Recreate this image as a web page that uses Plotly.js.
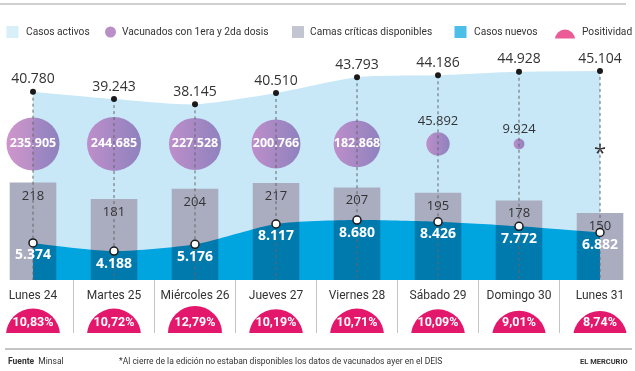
<!DOCTYPE html>
<html><head><meta charset="utf-8">
<script src="https://cdn.plot.ly/plotly-3.0.1.min.js"></script>
<style>
html,body{margin:0;padding:0;background:#fff;}
#chart{width:635px;height:371px;}
/* the new-cases area is blended (multiply) over the beds bars and the active-cases area */
.overplot g.xy3{mix-blend-mode:multiply;}
</style></head><body><div id="chart"></div>
<script>
// ---- data ----
const days = ['Lunes 24','Martes 25','Miércoles 26','Jueves 27','Viernes 28','Sábado 29','Domingo 30','Lunes 31'];
const activos = [40780,39243,38145,40510,43793,44186,44928,45104];
const vacunados = [235905,244685,227528,200766,182868,45892,9924,null];
const camas = [218,181,204,217,207,195,178,150];
const nuevos = [5374,4188,5176,8117,8680,8426,7772,6882];
const positividad = [10.83,10.72,12.79,10.19,10.71,10.09,9.01,8.74];
const legendLabels = ['Casos activos','Vacunados con 1era y 2da dosis','Camas críticas disponibles','Casos nuevos','Positividad'];
const nota = '*Al cierre de la edición no estaban disponibles los datos de vacunados ayer en el DEIS';

// ---- styling ----
const W = 635, H = 371;
const py = p => 1 - p / H;
const px = p => p / W;
const C = {light:'rgb(200,232,248)', cyanFill:'rgb(0,180,230)', cyan:'rgb(0,164,224)', gray:'rgb(170,172,192)',
           purpleA:'#b968b6', purpleB:'#7656a5', purple:'#9a5fae', pink:'#e3176b', text:'#333333', dot:'#1a1a1a'};
const SANS = 'Roboto, "Liberation Sans", sans-serif';
const NUM = '"Open Sans", sans-serif';

const fmt = v => String(v).replace(/\B(?=(\d{3})+(?!\d))/g, '.');
const pct = v => v.toFixed(2).replace('.', ',') + '%';
const idx = days.map((d, i) => i);
const ROW = 0.567;       // bubble row on its 0..1 axis
const maxVac = Math.max(...vacunados.filter(v => v != null));

// dashed guides from each active-case dot downward
const gx = [], gy = [];
activos.forEach((v, i) => { gx.push(i, i, null); gy.push(v, 0, null); });

const traces = [
  {x: idx, y: activos, yaxis: 'y', mode: 'lines', line: {shape: 'spline', smoothing: 0.7, width: 0, color: C.light},
   fill: 'tozeroy', fillcolor: C.light, hoverinfo: 'skip'},
  {type: 'bar', x: idx, y: camas, yaxis: 'y2', width: 0.575, marker: {color: C.gray, line: {width: 0}},
   text: camas.map(String), textposition: 'inside', insidetextanchor: 'end', textangle: 0,
   insidetextfont: {family: NUM, size: 13, color: C.text}, hoverinfo: 'skip'},
  {x: idx, y: nuevos, yaxis: 'y3', mode: 'lines', line: {shape: 'spline', smoothing: 0.7, width: 0, color: C.cyanFill},
   fill: 'tozeroy', fillcolor: C.cyanFill, hoverinfo: 'skip'},
  {x: idx, y: vacunados.map(v => v == null ? null : ROW), yaxis: 'y4', mode: 'markers+text',
   marker: {size: vacunados.map(v => v == null ? 0 : v), sizemode: 'area', sizeref: 2 * maxVac / (54 * 54),
            color: C.purpleA, gradient: {type: 'horizontal', color: C.purpleB}, line: {width: 0}},
   text: vacunados.map(v => (v != null && v < 100000) ? fmt(v) : ''), textposition: 'top center',
   textfont: {family: NUM, size: 13, color: C.text}, cliponaxis: false, hoverinfo: 'skip'},
  {x: idx, y: vacunados.map(v => v == null ? null : ROW), yaxis: 'y4', mode: 'text',
   text: vacunados.map(v => (v != null && v >= 100000) ? fmt(v) : ''), textposition: 'middle center',
   textfont: {family: NUM, size: 12.5, color: '#ffffff', weight: 700}, cliponaxis: false, hoverinfo: 'skip'},
  {x: idx, y: vacunados.map(v => v == null ? ROW : null), yaxis: 'y4', mode: 'text',
   text: vacunados.map(v => v == null ? '*' : ''), textposition: 'bottom center',
   textfont: {family: NUM, size: 22, color: C.text}, cliponaxis: false, hoverinfo: 'skip'},
  {x: gx, y: gy, yaxis: 'y5', mode: 'lines', line: {color: '#666666', width: 1, dash: 'dot'}, hoverinfo: 'skip'},
  {x: idx, y: activos, yaxis: 'y5', mode: 'markers+text', marker: {size: 6, color: C.dot},
   text: activos.map(fmt), textposition: 'top center', textfont: {family: NUM, size: 14, color: C.text},
   cliponaxis: false, hoverinfo: 'skip'},
  {x: idx, y: nuevos, yaxis: 'y6', mode: 'markers+text',
   marker: {size: 8, color: '#ffffff', line: {color: C.dot, width: 1.5}},
   text: nuevos.map(fmt), textposition: 'bottom center', textfont: {family: NUM, size: 14, color: '#ffffff', weight: 700},
   cliponaxis: false, hoverinfo: 'skip'},
  {x: idx, y: positividad, xaxis: 'x2', yaxis: 'y7', mode: 'markers', marker: {size: 54, color: C.pink, line: {width: 0}},
   hoverinfo: 'skip'},
  {x: idx, y: idx.map(() => 0.19), xaxis: 'x2', yaxis: 'y8', mode: 'text', text: positividad.map(pct),
   textfont: {family: SANS, size: 12.5, color: '#ffffff', weight: 700}, cliponaxis: false, hoverinfo: 'skip'},
  {x: idx, y: idx.map(() => 0.70), xaxis: 'x2', yaxis: 'y8', mode: 'text', text: days,
   textfont: {family: SANS, size: 12, color: C.text}, cliponaxis: false, hoverinfo: 'skip'},
  // legend symbols
  {x: [12.5, 110.5, 298, 460.5, 565], y: [0.265, 0.265, 0.265, 0.265, -0.04], xaxis: 'x3', yaxis: 'y9', mode: 'markers',
   marker: {symbol: ['square', 'circle', 'square', 'square', 'circle'], size: [12, 11, 12, 12, 20],
            color: [C.light, C.purple, C.gray, C.cyan, C.pink], line: {width: 0}}, hoverinfo: 'skip'}
];

const XR = [-33 / 81, (W - 33) / 81];
const hid = {visible: false, fixedrange: true};
const mainDom = [py(280), py(40)];
const layout = {
  width: W, height: H, margin: {l: 0, r: 0, t: 0, b: 0, pad: 0},
  paper_bgcolor: '#ffffff', plot_bgcolor: 'rgba(0,0,0,0)', showlegend: false, separators: ',.',
  font: {family: NUM, color: C.text},
  xaxis: Object.assign({domain: [0, 1], range: XR, anchor: 'y'}, hid),
  yaxis: Object.assign({domain: mainDom, range: [1595, 51533], anchor: 'x'}, hid),
  yaxis2: Object.assign({overlaying: 'y', range: [0, 537], anchor: 'x'}, hid),
  yaxis3: Object.assign({overlaying: 'y', range: [0, 34783], anchor: 'x'}, hid),
  yaxis4: Object.assign({overlaying: 'y', range: [0, 1], anchor: 'x'}, hid),
  yaxis5: Object.assign({overlaying: 'y', range: [1595, 51533], anchor: 'x'}, hid),
  yaxis6: Object.assign({overlaying: 'y', range: [0, 34783], anchor: 'x'}, hid),
  xaxis2: {domain: [0, 1], range: XR, anchor: 'y7', showgrid: true, gridcolor: '#c4c4c4', gridwidth: 1,
           tick0: 0.5, dtick: 1, showticklabels: false, ticks: '', zeroline: false, showline: false, fixedrange: true},
  yaxis7: Object.assign({domain: [py(333), py(280)], range: [12.81, 55.9], anchor: 'x2'}, hid),
  yaxis8: Object.assign({overlaying: 'y7', range: [0, 1], anchor: 'x2'}, hid),
  xaxis3: Object.assign({domain: [0, 1], range: [0, W], anchor: 'y9'}, hid),
  yaxis9: Object.assign({domain: [py(38.5), py(14)], range: [0, 1], anchor: 'x3'}, hid),
  shapes: [
    {type: 'line', xref: 'paper', yref: 'paper', x0: 0, x1: px(626), y0: py(4), y1: py(4), line: {color: '#a0a0a0', width: 1}},
    {type: 'line', xref: 'paper', yref: 'paper', x0: px(5), x1: px(632), y0: py(349), y1: py(349), line: {color: '#8a8a8a', width: 1}}
  ],
  annotations: [
    ...[24, 120, 308, 472, 580].map((x, i) => ({xref: 'paper', yref: 'paper', x: px(x), y: py(32), xanchor: 'left', yanchor: 'middle',
        text: legendLabels[i], showarrow: false, font: {family: SANS, size: 10.2, color: C.text}})),
    {xref: 'paper', yref: 'paper', x: px(6), y: py(361), xanchor: 'left', yanchor: 'middle', showarrow: false,
     text: '<b>Fuente</b>  Minsal', font: {family: SANS, size: 8.5, color: C.text}},
    {xref: 'paper', yref: 'paper', x: px(117), y: py(361), xanchor: 'left', yanchor: 'middle', showarrow: false,
     text: nota, font: {family: SANS, size: 8.5, color: C.text}},
    {xref: 'paper', yref: 'paper', x: px(630), y: py(361), xanchor: 'right', yanchor: 'middle', showarrow: false,
     text: '<b>EL MERCURIO</b>', font: {family: SANS, size: 7.5, color: C.text}}
  ]
};

Plotly.newPlot('chart', traces, layout, {staticPlot: true, displayModeBar: false});
</script></body></html>
